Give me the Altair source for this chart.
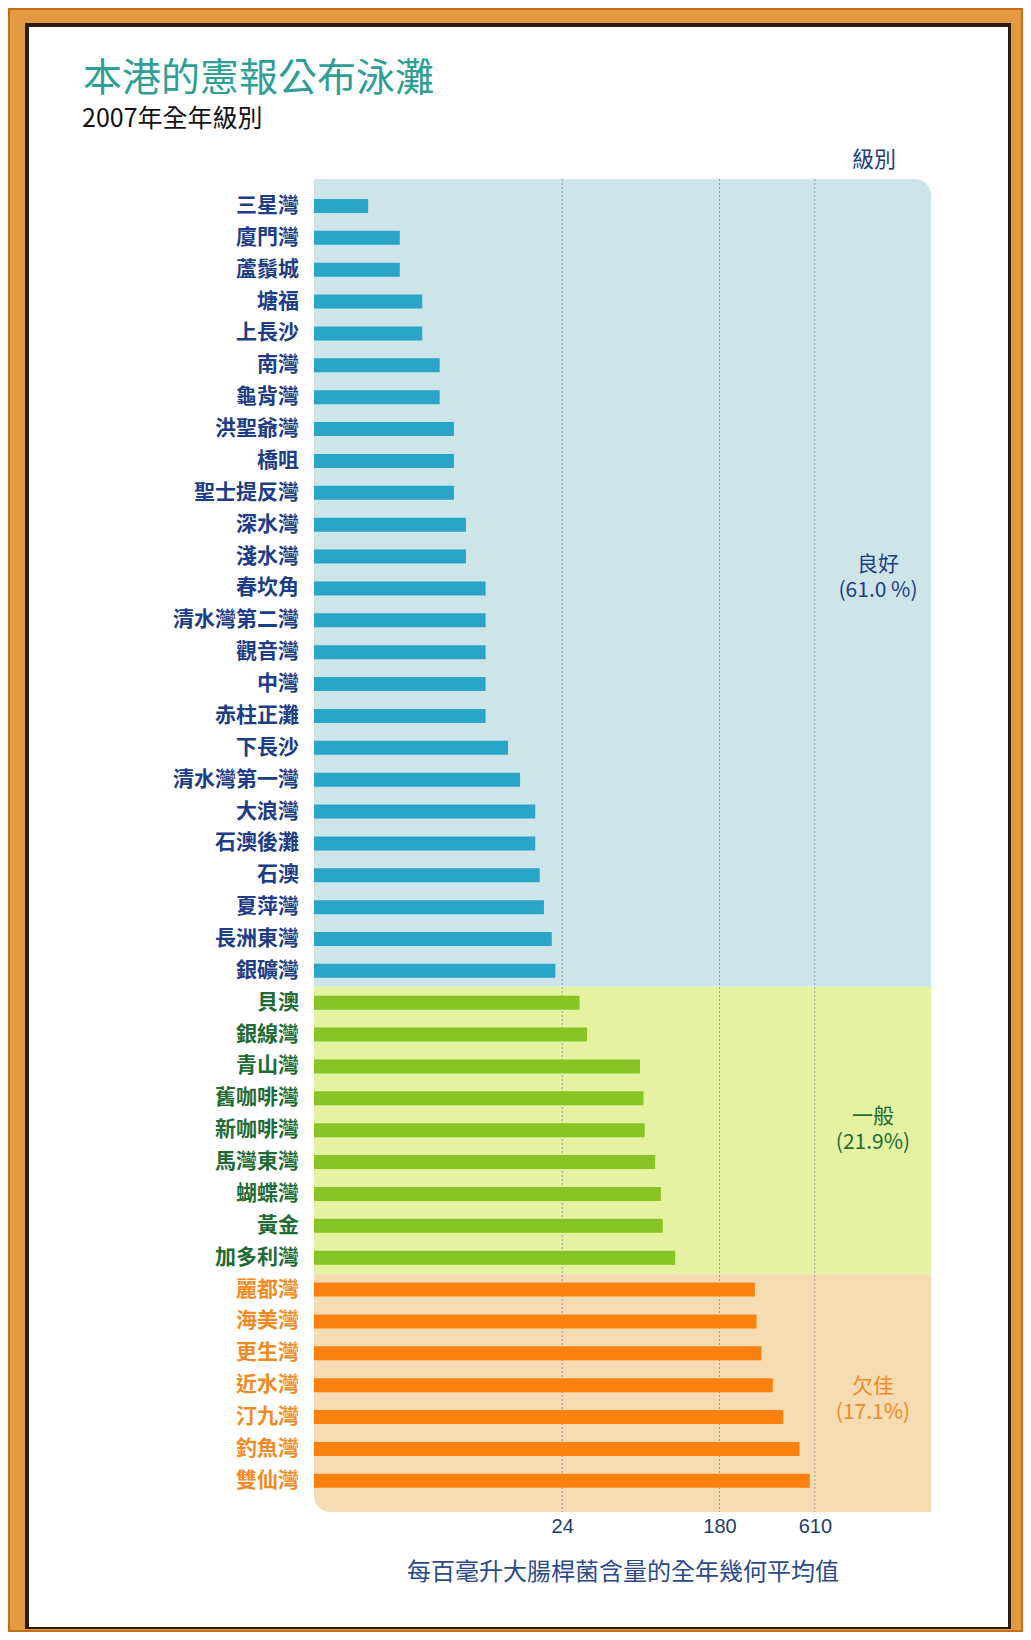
import altair as alt
import pandas as pd
import numpy as np

# ---------------- data ----------------
names = ["三星灣", "廈門灣", "蘆鬚城", "塘福", "上長沙", "南灣", "龜背灣", "洪聖爺灣", "橋咀", "聖士提反灣",
         "深水灣", "淺水灣", "春坎角", "清水灣第二灣", "觀音灣", "中灣", "赤柱正灘", "下長沙", "清水灣第一灣", "大浪灣",
         "石澳後灘", "石澳", "夏萍灣", "長洲東灣", "銀礦灣",
         "貝澳", "銀線灣", "青山灣", "舊咖啡灣", "新咖啡灣", "馬灣東灣", "蝴蝶灣", "黃金", "加多利灣",
         "麗都灣", "海美灣", "更生灣", "近水灣", "汀九灣", "釣魚灣", "雙仙灣"]
values = [2, 3, 3, 4, 4, 5, 5, 6, 6, 6,
          7, 7, 9, 9, 9, 9, 9, 12, 14, 17,
          17, 18, 19, 21, 22,
          30, 33, 65, 68, 69, 79, 85, 87, 102,
          283, 289, 308, 356, 407, 501, 572]
group_names = ["良好", "一般", "欠佳"]
group_counts = [25, 9, 7]
group_pcts = ["(61.0 %)", "(21.9%)", "(17.1%)"]
tick_values = [24, 180, 610]
title_text = "本港的憲報公布泳灘"
subtitle_text = "2007年全年級別"
legend_title = "級別"
x_title = "每百毫升大腸桿菌含量的全年幾何平均值"

# ---------------- styles ----------------
CJK = "Noto Sans CJK TC"
bar_colors = ["#29a6c7", "#88c425", "#f9810f"]
bg_colors = ["#cde4e8", "#e4f2a2", "#f6dcb2"]
label_colors = ["#1d3d86", "#1f6b35", "#f28a24"]

W, H = 617, 1333
n = len(names)
pad_outer, band_align = 0.413, 0.42
top_edge = -0.5 - 2 * pad_outer * band_align
bottom_edge = n - 0.5 + 2 * pad_outer * (1 - band_align)

groups = []
for g, c in zip(group_names, group_counts):
    groups += [g] * c
df = pd.DataFrame({"name": names, "value": values, "group": groups})
df["base"] = 1

cum = np.cumsum(group_counts)
starts = [top_edge] + [c - 0.5 for c in cum[:-1]]
ends = [c - 0.5 for c in cum[:-1]] + [bottom_edge]
bg = pd.DataFrame({"group": group_names, "y0": starts, "y1": ends})

one = pd.DataFrame({"k": [0]})

xscale = alt.Scale(type="log", domain=[1, 2700], nice=False)
xaxis = alt.Axis(values=tick_values, format="d", grid=False, ticks=False, tickSize=0, domain=False,
                 labelFont="Liberation Sans", labelFontSize=20, labelColor="#1d3d70", labelPadding=4,
                 title=x_title, titleFont=CJK, titleFontSize=24, titleFontWeight="normal",
                 titleColor="#2a4a8a", titlePadding=24, zindex=1)
yscale_band = alt.Scale(type="band", domain=names, paddingInner=0, paddingOuter=pad_outer, align=band_align)
ybg = alt.Y("y0:Q", scale=alt.Scale(domain=[top_edge, bottom_edge], reverse=True, nice=False, zero=False),
            axis=None)


def frame_rect(x0, x1, y0, y1, color):
    return alt.Chart(one).mark_rect(color=color).encode(
        x=alt.value(x0), x2=alt.value(x1), y=alt.value(y0), y2=alt.value(y1))


frame = [
    frame_rect(-306, 709, -171, 1453, "#c46f1c"),
    frame_rect(-304, 707, -169, 1451, "#e39a42"),
    frame_rect(-289, 697, -156, 1450, "#2e1c0a"),
    frame_rect(-285, 694, -152, 1448, "#ffffff"),
]

corner = [dict(cornerRadiusTopRight=16), dict(), dict(cornerRadiusBottomLeft=16)]
bg_layers = []
for i in range(3):
    bg_layers.append(
        alt.Chart(bg).transform_filter(alt.datum.group == group_names[i])
        .mark_rect(color=bg_colors[i], **corner[i])
        .encode(x=alt.value(0), x2=alt.value(W), y=ybg, y2="y1:Q"))

rules = alt.Chart(pd.DataFrame({"tick": tick_values})).mark_rule(
    color="#9a9a9a", strokeDash=[2, 2], strokeWidth=1).encode(
    x=alt.X("tick:Q", scale=xscale, axis=xaxis))

bars = alt.Chart(df).mark_bar(size=14).encode(
    y=alt.Y("name:N", sort=names, scale=yscale_band, axis=None),
    x=alt.X("value:Q", scale=xscale, axis=xaxis),
    x2="base:Q",
    color=alt.Color("group:N", scale=alt.Scale(domain=group_names, range=bar_colors), legend=None),
)

labels = alt.Chart(df).mark_text(align="right", baseline="middle", font=CJK, fontSize=21,
                                 fontWeight="bold").encode(
    y=alt.Y("name:N", sort=names, scale=yscale_band, axis=None, bandPosition=0.5),
    x=alt.value(-15),
    text="name:N",
    color=alt.Color("group:N", scale=alt.Scale(domain=group_names, range=label_colors), legend=None),
)


def txt(s, x, y, **kw):
    return alt.Chart(pd.DataFrame({"t": [s]})).mark_text(**kw).encode(
        text="t:N", x=alt.value(x), y=alt.value(y))


texts = [
    txt(title_text, -231, -100, align="left", baseline="middle", font=CJK, fontSize=39, color="#2f9f95"),
    txt(subtitle_text, -232, -60, align="left", baseline="middle", font=CJK, fontSize=25, color="#111111"),
    txt(legend_title, 560, -19, align="center", baseline="middle", font=CJK, fontSize=22, color=label_colors[0]),
]
gpos = [(564, 386), (559, 938), (559, 1208)]
for i in range(3):
    gx, gy = gpos[i]
    texts.append(txt(group_names[i], gx, gy, align="center", baseline="middle", font=CJK,
                     fontSize=21, color=label_colors[i]))
    texts.append(txt(group_pcts[i], gx, gy + 26, align="center", baseline="middle", font=CJK,
                     fontSize=21, color=label_colors[i]))

chart = alt.layer(*frame, *bg_layers, rules, bars, labels, *texts).resolve_scale(
    y="independent", color="independent"
).properties(width=W, height=H, padding=0).configure_view(stroke=None).configure(background="#ffffff")

chart.save("out.html", embed_options={"renderer": "svg", "actions": False})
